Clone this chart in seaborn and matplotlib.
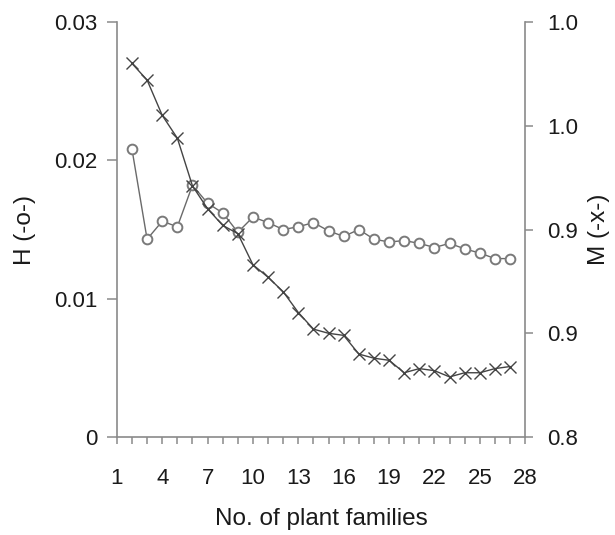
import matplotlib
matplotlib.use("Agg")
import matplotlib.pyplot as plt
from matplotlib.ticker import MultipleLocator
import seaborn as sns
import pandas as pd

# number of plant families (x)
families = list(range(2, 28))

# H index (left axis, open circles)
h_values = [0.0208, 0.0143, 0.0156, 0.0152, 0.0182, 0.0169, 0.0162, 0.0148,
            0.0159, 0.0155, 0.0150, 0.0152, 0.0155, 0.0149, 0.0145, 0.0150,
            0.0143, 0.0141, 0.0142, 0.0140, 0.0137, 0.0140, 0.0136, 0.0133,
            0.0129, 0.0129]

# M index (right axis, crosses)
m_values = [0.980, 0.972, 0.955, 0.944, 0.921, 0.910, 0.902, 0.898,
            0.883, 0.877, 0.870, 0.860, 0.852, 0.850, 0.849, 0.840,
            0.838, 0.837, 0.831, 0.833, 0.832, 0.829, 0.831, 0.831,
            0.833, 0.834]

x_ticks = [1, 4, 7, 10, 13, 16, 19, 22, 25, 28]
h_ticks = [0, 0.01, 0.02, 0.03]
h_tick_labels = ["0", "0.01", "0.02", "0.03"]
m_ticks = [0.8, 0.85, 0.9, 0.95, 1.0]
m_tick_labels = ["0.8", "0.9", "0.9", "1.0", "1.0"]

df = pd.DataFrame({"families": families, "H": h_values, "M": m_values})

sns.set_style("white")
plt.rcParams["font.family"] = ["Liberation Sans", "DejaVu Sans"]

spine_col = "#8a8a8a"
text_col = "#1a1a1a"
fs_tick = 16
fs_label = 17.5

fig = plt.figure(figsize=(6.15, 5.35), dpi=100)
ax = fig.add_axes([0.190, 0.183, 0.664, 0.776])
ax2 = ax.twinx()

sns.lineplot(data=df, x="families", y="H", ax=ax, color="#6a6a6a", lw=1.0,
             marker="o", markersize=7, markerfacecolor="white",
             markeredgecolor="#7a7a7a", markeredgewidth=1.4)
sns.lineplot(data=df, x="families", y="M", ax=ax2, color="#444444", lw=1.0,
             marker="x", markersize=8.5, markeredgecolor="#444444",
             markeredgewidth=1.0)

ax.set_xlim(1, 28)
ax.set_ylim(0, 0.03)
ax2.set_ylim(0.8, 1.0)

ax.set_xticks(x_ticks)
ax.xaxis.set_minor_locator(MultipleLocator(1))
ax.set_yticks(h_ticks)
ax.set_yticklabels(h_tick_labels)
ax2.set_yticks(m_ticks)
ax2.set_yticklabels(m_tick_labels)

for a in (ax, ax2):
    a.spines["top"].set_visible(False)
    for side in ("left", "right", "bottom"):
        a.spines[side].set_color(spine_col)
        a.spines[side].set_linewidth(1.2)

ax.spines["right"].set_visible(False)
ax2.spines["left"].set_visible(False)
ax2.spines["bottom"].set_visible(False)

ax.tick_params(axis="y", which="major", direction="out", length=7,
               width=1.1, color=spine_col, labelsize=fs_tick, labelcolor=text_col,
               left=True, pad=7)
ax.tick_params(axis="x", which="major", direction="out", length=5,
               width=1.1, color=spine_col, labelsize=fs_tick, labelcolor=text_col,
               bottom=True, pad=17)
ax.tick_params(axis="x", which="minor", direction="out", length=5,
               width=1.1, color=spine_col, bottom=True)
ax2.tick_params(axis="y", which="major", direction="out", length=6,
                width=1.1, color=spine_col, labelsize=fs_tick, labelcolor=text_col,
                right=True, pad=10)

ax.set_xlabel("No. of plant families", fontsize=fs_label, color=text_col, labelpad=14)
ax.set_ylabel("H (-o-)", fontsize=fs_label, color=text_col, labelpad=13)
ax2.set_ylabel("M (-x-)", fontsize=fs_label, color=text_col, labelpad=7, rotation=90)

fig.savefig("out.png", dpi=100)
